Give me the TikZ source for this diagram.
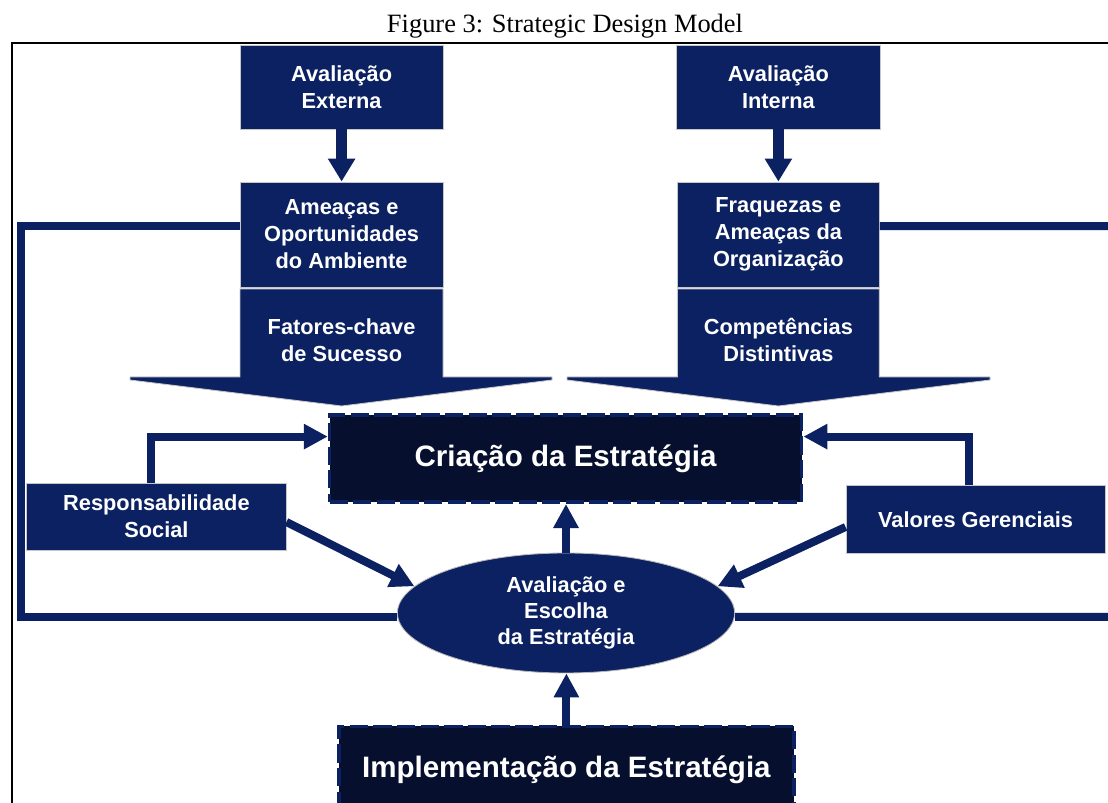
\documentclass[tikz,border=0pt]{standalone}
\usepackage{fontspec}
\setmainfont{Liberation Serif}
\setsansfont{Liberation Sans}
\usepackage{xcolor}
\usepackage{tikz}
\usetikzlibrary{positioning, arrows.meta, shapes.geometric}
\definecolor{navy}{HTML}{0B2161}
\definecolor{deepnavy}{HTML}{06102E}

\begin{document}
\begin{tikzpicture}[
  blk/.style={rectangle, fill=navy, draw=gray!45, line width=0.6pt, text=white, align=center, font=\sffamily\bfseries\fontsize{15.5}{19.2}\selectfont, inner sep=2pt},
  chevtxt/.style={text=white, align=center, font=\sffamily\bfseries\fontsize{15.5}{19.2}\selectfont},
  stratbox/.style={rectangle, fill=deepnavy, draw=navy, line width=2.6pt, dash pattern=on 13pt off 3.8pt, text=white, font=\sffamily\bfseries\fontsize{21}{25}\selectfont, minimum width=11.8cm, minimum height=2.18cm},
  choice/.style={ellipse, fill=navy, draw=gray!55, line width=0.6pt, text=white, align=center, font=\sffamily\bfseries\fontsize{15.5}{18.5}\selectfont, minimum width=8.43cm, minimum height=3.0cm, inner sep=0pt},
  link/.style={draw=navy, line width=5.7pt},
  arr/.style={link, -{Triangle[length=0.6cm, width=0.6cm]}},
  down/.style={draw=navy, line width=7.5pt, -{Triangle[length=0.575cm, width=0.65cm]}}
]
\useasboundingbox (0,0) rectangle (27.7,20.075);

% --- Caption and frame ---
\node[font=\fontsize{18.8}{22}\selectfont] (title) at (14.125, 19.42) {Figure 3: Strategic Design Model};
\draw[line width=1.5pt] (0.3,-0.2) |- (27.9,19.0);

% --- External / internal analysis ---
\node[blk, minimum width=5.08cm, minimum height=2.08cm] (evalext) at (8.54, 17.89) {Avaliação\\Externa};
\node[blk, minimum width=5.08cm, minimum height=2.08cm] (evalint) at (19.46, 17.89) {Avaliação\\Interna};
\node[blk, minimum width=5.08cm, minimum height=2.63cm] (threats) at (8.54, 14.21) {Ameaças e\\Oportunidades\\do Ambiente};
\node[blk, minimum width=5.05cm, minimum height=2.63cm] (weak) at (19.46, 14.21) {Fraquezas e\\Ameaças da\\Organização};

% big block arrows
\filldraw[fill=navy, draw=gray!45, line width=0.6pt] (6.0,12.85) -- (11.075,12.85) -- (11.075,10.65) -- (13.8,10.65) -- (13.8,10.575) -- (8.54,9.925) -- (3.25,10.575) -- (3.25,10.65) -- (6.0,10.65) -- cycle;
\node[chevtxt] (keyf) at (8.54, 11.575) {Fatores-chave\\de Sucesso};
\filldraw[fill=navy, draw=gray!45, line width=0.6pt] (16.935,12.85) -- (21.985,12.85) -- (21.985,10.65) -- (24.75,10.65) -- (24.75,10.575) -- (19.46,9.925) -- (14.175,10.575) -- (14.175,10.65) -- (16.935,10.65) -- cycle;
\node[chevtxt] (skills) at (19.46, 11.575) {Competências\\Distintivas};

% --- Strategy core ---
\node[stratbox] (create) at (14.14, 8.61) {Criação da Estratégia};
\node[blk, minimum width=6.48cm, minimum height=1.68cm] (social) at (3.91, 7.16) {Responsabilidade\\Social};
\node[blk, minimum width=6.48cm, minimum height=1.68cm] (values) at (24.39, 7.09) {Valores Gerenciais};
\node[choice] (choose) at (14.15, 4.75) {Avaliação e\\Escolha\\da Estratégia};
\node[stratbox, minimum width=11.38cm] (impl) at (14.16, 0.825) {Implementação da Estratégia};

% --- Connectors ---
\draw[down] (evalext) -- (threats);
\draw[down] (evalint) -- (weak);

\coordinate (edgetop) at (27.7, 14.42);
\coordinate (edgebot) at (27.7, 4.65);
\draw[link] ([yshift=0.21cm]threats.west) -- ++(-5.475,0) |- ([yshift=-0.1cm]choose.west);
\draw[link] ([yshift=0.21cm]weak.east) -- (edgetop);
\draw[link] ([yshift=-0.1cm]choose.east) -- (edgebot);

\draw[arr] ([xshift=-0.135cm]social.north) |- ([yshift=0.55cm]create.west);
\draw[arr] ([xshift=-0.165cm]values.north) |- ([yshift=0.55cm]create.east);
\draw[arr] ([yshift=-0.135cm]social.east) -- (choose.170);
\draw[arr] ([yshift=-0.19cm]values.west) -- (choose.10);
\draw[arr] (choose.north) -- (choose.north |- create.south);
\draw[arr] (impl.north) -- (impl.north |- choose.south);

\end{tikzpicture}
\end{document}
